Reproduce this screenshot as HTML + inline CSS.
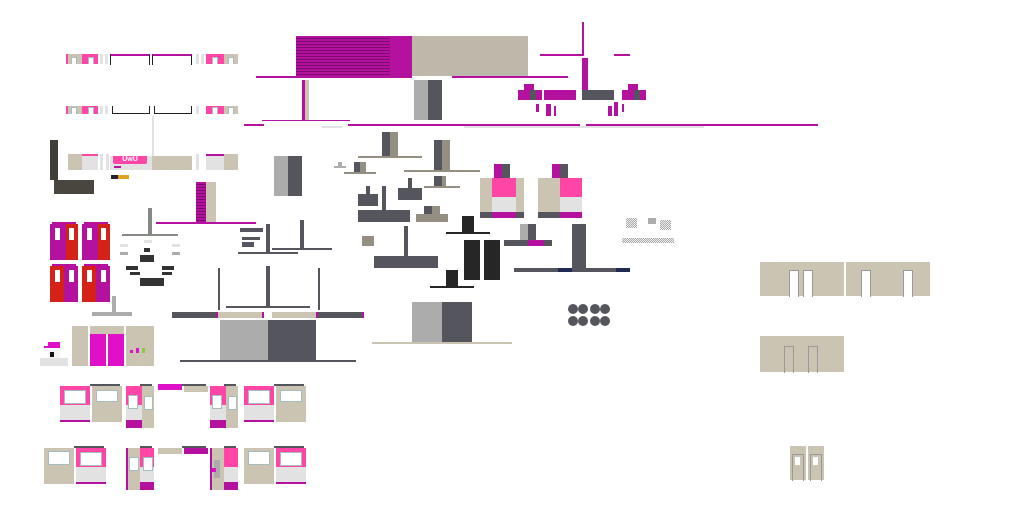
<!DOCTYPE html>
<html><head><meta charset="utf-8"><style>
html,body{margin:0;padding:0;background:#fff;width:1024px;height:512px;overflow:hidden;position:relative;font-family:"Liberation Sans",sans-serif}
b{position:absolute;display:block}
.m{background:#b5119f}.p{background:#ff45a5}.be{background:#cbc4b3}.d{background:#55555e}.l{background:#acacac}.t{background:#958f83}.w{background:#e2e2e2}.r{background:#d52218}.k{background:#262626}.s{background:repeating-linear-gradient(#b5119f 0 2px,#7d0a6e 2px 3px)}
.win{background:#fff;border:1px solid #a7bcbc}
.n{background:#fff;border:1px solid #a7bcbc;border-bottom:none;width:4px;height:6px}
</style></head><body>
<!-- top-left window rows -->
<b class="p" style="left:66px;top:54px;width:32px;height:10px"></b><b class="be" style="left:68px;top:54px;width:14px;height:10px"></b>
<b class="n" style="left:71px;top:57px"></b><b class="n" style="left:88px;top:57px"></b>
<b class="w" style="left:100px;top:54px;width:3px;height:10px"></b><b class="w" style="left:105px;top:54px;width:3px;height:10px"></b>
<b style="left:110px;top:54px;width:38px;height:9px;border:1px solid #222;border-top:2px solid #b5119f;border-bottom:none"></b>
<b style="left:152px;top:54px;width:38px;height:9px;border:1px solid #222;border-top:2px solid #b5119f;border-bottom:none"></b>
<b class="w" style="left:196px;top:54px;width:3px;height:10px"></b><b class="w" style="left:201px;top:54px;width:3px;height:10px"></b>
<b class="p" style="left:206px;top:54px;width:18px;height:10px"></b><b class="be" style="left:224px;top:54px;width:14px;height:10px"></b>
<b class="n" style="left:212px;top:57px"></b><b class="n" style="left:228px;top:57px"></b>
<b class="p" style="left:66px;top:106px;width:32px;height:8px"></b><b class="be" style="left:68px;top:106px;width:14px;height:8px"></b>
<b class="n" style="left:71px;top:107px"></b><b class="n" style="left:88px;top:107px"></b>
<b class="w" style="left:100px;top:106px;width:3px;height:8px"></b><b class="w" style="left:105px;top:106px;width:3px;height:8px"></b>
<b style="left:112px;top:106px;width:36px;height:7px;border:1px solid #222;border-top:none"></b>
<b style="left:154px;top:106px;width:36px;height:7px;border:1px solid #222;border-top:none"></b>
<b class="w" style="left:196px;top:106px;width:3px;height:8px"></b>
<b class="p" style="left:206px;top:106px;width:18px;height:8px"></b><b class="be" style="left:224px;top:106px;width:14px;height:8px"></b>
<b class="n" style="left:212px;top:107px"></b><b class="n" style="left:228px;top:107px"></b>
<b class="w" style="left:152px;top:116px;width:2px;height:40px"></b>
<!-- row 3 -->
<b class="d" style="left:50px;top:140px;width:8px;height:40px;background:#3f3f3a"></b>
<b style="left:54px;top:180px;width:40px;height:14px;background:#48463f"></b>
<b class="be" style="left:68px;top:154px;width:14px;height:16px"></b><b class="w" style="left:82px;top:154px;width:16px;height:16px"></b><b class="p" style="left:82px;top:154px;width:16px;height:2px"></b>
<b class="w" style="left:100px;top:154px;width:3px;height:16px"></b><b class="w" style="left:106px;top:154px;width:3px;height:16px"></b>
<b class="w" style="left:110px;top:156px;width:42px;height:14px"></b><b class="be" style="left:152px;top:156px;width:40px;height:14px"></b>
<b class="p" style="left:113px;top:156px;width:34px;height:8px;color:#fff;font-size:7px;line-height:8px;text-align:center;border-radius:0 0 2px 2px">UwU</b>
<b class="m" style="left:114px;top:166px;width:7px;height:2px"></b>
<b style="left:111px;top:175px;width:18px;height:4px;background:linear-gradient(90deg,#223 0 40%,#e0a020 40%)"></b>
<b class="w" style="left:196px;top:154px;width:3px;height:16px"></b>
<b class="w" style="left:206px;top:154px;width:18px;height:16px"></b><b class="m" style="left:206px;top:154px;width:18px;height:2px"></b><b class="be" style="left:224px;top:154px;width:14px;height:16px"></b>
<!-- striped block -->
<b class="s" style="left:196px;top:182px;width:10px;height:40px"></b><b class="be" style="left:206px;top:182px;width:10px;height:40px"></b>
<b class="m" style="left:156px;top:222px;width:100px;height:2px"></b>
<!-- doors -->
<b class="m" style="left:50px;top:224px;width:16px;height:36px"></b><b class="r" style="left:66px;top:224px;width:12px;height:36px"></b><b class="m" style="left:52px;top:222px;width:24px;height:2px"></b>
<b class="m" style="left:82px;top:224px;width:16px;height:36px"></b><b class="r" style="left:98px;top:224px;width:12px;height:36px"></b><b class="m" style="left:84px;top:222px;width:24px;height:2px"></b>
<b class="r" style="left:50px;top:266px;width:14px;height:36px"></b><b class="m" style="left:64px;top:266px;width:14px;height:36px"></b><b class="m" style="left:52px;top:264px;width:24px;height:2px"></b>
<b class="r" style="left:82px;top:266px;width:14px;height:36px"></b><b class="m" style="left:96px;top:266px;width:14px;height:36px"></b><b class="m" style="left:84px;top:264px;width:24px;height:2px"></b>
<b style="left:55px;top:228px;width:5px;height:12px;background:#fff"></b><b style="left:69px;top:228px;width:5px;height:12px;background:#fff"></b>
<b style="left:87px;top:228px;width:5px;height:12px;background:#fff"></b><b style="left:101px;top:228px;width:5px;height:12px;background:#fff"></b>
<b style="left:55px;top:270px;width:5px;height:12px;background:#fff"></b><b style="left:69px;top:270px;width:5px;height:12px;background:#fff"></b>
<b style="left:87px;top:270px;width:5px;height:12px;background:#fff"></b><b style="left:101px;top:270px;width:5px;height:12px;background:#fff"></b>
<!-- gray T + lamp -->
<b style="left:148px;top:208px;width:4px;height:27px;background:#868a85"></b><b style="left:122px;top:234px;width:56px;height:2px;background:#868a85"></b>
<b class="w" style="left:120px;top:244px;width:8px;height:3px"></b><b class="l" style="left:120px;top:252px;width:8px;height:3px"></b>
<b class="w" style="left:144px;top:240px;width:8px;height:3px"></b>
<b class="w" style="left:172px;top:244px;width:8px;height:3px"></b><b class="l" style="left:172px;top:252px;width:8px;height:3px"></b>
<b style="left:144px;top:248px;width:6px;height:4px;background:#333"></b><b style="left:140px;top:255px;width:14px;height:7px;background:#333"></b>
<b style="left:126px;top:266px;width:12px;height:4px;background:#333"></b><b style="left:162px;top:266px;width:12px;height:4px;background:#333"></b>
<b style="left:130px;top:272px;width:10px;height:3px;background:#333"></b><b style="left:162px;top:272px;width:10px;height:3px;background:#333"></b>
<b style="left:140px;top:278px;width:24px;height:8px;background:#333"></b>
<b class="l" style="left:112px;top:296px;width:4px;height:16px"></b><b class="l" style="left:92px;top:312px;width:40px;height:4px"></b>
<!-- mailbox & cabinet -->
<b style="left:48px;top:342px;width:12px;height:5px;background:#e010c8"></b><b style="left:44px;top:346px;width:16px;height:2px;background:#e010c8"></b>
<b style="left:48px;top:350px;width:12px;height:8px;background:#f4f4f4"></b><b style="left:50px;top:352px;width:4px;height:5px;background:#111"></b>
<b class="w" style="left:40px;top:358px;width:28px;height:8px"></b>
<b class="be" style="left:72px;top:326px;width:16px;height:40px"></b><b class="be" style="left:90px;top:326px;width:34px;height:8px"></b>
<b style="left:90px;top:334px;width:16px;height:32px;background:#e010c8"></b><b style="left:108px;top:334px;width:16px;height:32px;background:#e010c8"></b>
<b class="be" style="left:126px;top:326px;width:28px;height:40px"></b>
<b style="left:130px;top:350px;width:3px;height:3px;background:#e010c8"></b><b style="left:136px;top:348px;width:3px;height:5px;background:#e010c8"></b><b style="left:142px;top:348px;width:3px;height:5px;background:#8c4"></b>
<!-- dark lamp group -->
<b class="d" style="left:240px;top:228px;width:23px;height:4px"></b><b class="d" style="left:242px;top:237px;width:18px;height:3px"></b><b class="d" style="left:242px;top:242px;width:12px;height:5px"></b>
<b class="d" style="left:266px;top:224px;width:4px;height:30px"></b><b class="d" style="left:238px;top:252px;width:60px;height:2px"></b>
<b class="d" style="left:300px;top:220px;width:4px;height:28px"></b><b class="d" style="left:272px;top:248px;width:60px;height:2px"></b>
<!-- big T structure -->
<b class="d" style="left:218px;top:268px;width:2px;height:42px"></b><b class="d" style="left:266px;top:266px;width:4px;height:42px"></b><b class="d" style="left:318px;top:268px;width:2px;height:42px"></b>
<b class="d" style="left:226px;top:306px;width:84px;height:2px"></b>
<b class="d" style="left:172px;top:312px;width:46px;height:6px"></b><b class="be" style="left:218px;top:312px;width:46px;height:6px"></b><b class="be" style="left:272px;top:312px;width:46px;height:6px"></b><b class="d" style="left:318px;top:312px;width:44px;height:6px"></b>
<b class="m" style="left:216px;top:312px;width:2px;height:6px"></b><b class="m" style="left:262px;top:312px;width:2px;height:6px"></b><b class="m" style="left:316px;top:312px;width:2px;height:6px"></b><b class="m" style="left:362px;top:312px;width:2px;height:6px"></b>
<b class="l" style="left:220px;top:320px;width:48px;height:40px"></b><b class="d" style="left:268px;top:320px;width:48px;height:40px"></b>
<b class="d" style="left:180px;top:360px;width:176px;height:2px"></b>
<!-- top big block -->
<b class="s" style="left:296px;top:36px;width:94px;height:40px"></b><b class="m" style="left:390px;top:36px;width:22px;height:40px"></b><b class="be" style="left:412px;top:36px;width:116px;height:40px;background:#bdb8aa"></b>
<b class="m" style="left:256px;top:76px;width:156px;height:2px"></b><b class="m" style="left:452px;top:76px;width:116px;height:2px"></b>
<b class="m" style="left:302px;top:80px;width:3px;height:40px"></b><b class="be" style="left:305px;top:80px;width:4px;height:40px"></b>
<b class="l" style="left:414px;top:80px;width:14px;height:40px"></b><b class="d" style="left:428px;top:80px;width:14px;height:40px"></b>
<b class="m" style="left:262px;top:120px;width:88px;height:1px"></b><b class="m" style="left:244px;top:124px;width:20px;height:2px"></b>
<b class="m" style="left:348px;top:124px;width:232px;height:2px"></b><b class="m" style="left:586px;top:124px;width:232px;height:2px"></b>
<b class="w" style="left:464px;top:126px;width:240px;height:2px"></b><b class="w" style="left:322px;top:126px;width:20px;height:2px"></b>
<!-- right top cluster -->
<b class="m" style="left:582px;top:22px;width:2px;height:34px"></b><b class="m" style="left:540px;top:54px;width:42px;height:2px"></b><b class="m" style="left:614px;top:54px;width:16px;height:2px"></b>
<b class="m" style="left:582px;top:58px;width:6px;height:32px"></b>
<b class="m" style="left:518px;top:90px;width:24px;height:10px"></b><b class="m" style="left:524px;top:84px;width:10px;height:6px"></b><b class="d" style="left:530px;top:90px;width:6px;height:10px"></b>
<b class="m" style="left:544px;top:90px;width:32px;height:10px"></b><b class="d" style="left:582px;top:90px;width:32px;height:10px"></b>
<b class="m" style="left:622px;top:90px;width:24px;height:10px"></b><b class="m" style="left:628px;top:84px;width:10px;height:6px"></b><b class="d" style="left:634px;top:90px;width:6px;height:10px"></b>
<b class="m" style="left:536px;top:104px;width:3px;height:8px"></b><b class="m" style="left:546px;top:104px;width:5px;height:12px"></b><b class="m" style="left:554px;top:106px;width:2px;height:10px"></b>
<b class="m" style="left:608px;top:106px;width:4px;height:10px"></b><b class="m" style="left:614px;top:102px;width:4px;height:14px"></b><b class="m" style="left:622px;top:104px;width:2px;height:8px"></b>
<!-- mid -->
<b class="l" style="left:274px;top:156px;width:14px;height:40px"></b><b class="d" style="left:288px;top:156px;width:14px;height:40px"></b>
<b class="d" style="left:382px;top:132px;width:8px;height:24px"></b><b class="t" style="left:390px;top:132px;width:8px;height:24px"></b><b class="t" style="left:358px;top:156px;width:64px;height:2px"></b>
<b class="d" style="left:434px;top:140px;width:8px;height:30px"></b><b class="t" style="left:442px;top:140px;width:8px;height:30px"></b><b class="t" style="left:404px;top:170px;width:76px;height:2px"></b>
<b class="l" style="left:334px;top:166px;width:12px;height:2px"></b><b class="l" style="left:338px;top:162px;width:4px;height:4px"></b>
<b class="d" style="left:354px;top:162px;width:6px;height:10px"></b><b class="t" style="left:360px;top:162px;width:6px;height:10px"></b><b class="t" style="left:344px;top:172px;width:32px;height:2px"></b>
<b class="d" style="left:434px;top:176px;width:8px;height:10px"></b><b class="t" style="left:442px;top:176px;width:4px;height:10px"></b><b class="t" style="left:424px;top:186px;width:36px;height:2px"></b>
<b class="d" style="left:366px;top:186px;width:4px;height:8px"></b><b class="d" style="left:358px;top:194px;width:20px;height:12px"></b>
<b class="d" style="left:382px;top:186px;width:4px;height:24px"></b><b class="d" style="left:358px;top:210px;width:52px;height:12px"></b>
<b class="d" style="left:408px;top:178px;width:4px;height:10px"></b><b class="d" style="left:398px;top:188px;width:24px;height:12px"></b>
<b class="d" style="left:424px;top:206px;width:8px;height:8px"></b><b class="t" style="left:432px;top:206px;width:8px;height:8px"></b><b class="t" style="left:416px;top:214px;width:32px;height:8px"></b>
<b class="t" style="left:362px;top:236px;width:12px;height:10px"></b>
<b class="d" style="left:404px;top:226px;width:4px;height:30px"></b><b class="d" style="left:374px;top:256px;width:64px;height:12px"></b>
<!-- pink modules -->
<b class="be" style="left:480px;top:178px;width:44px;height:34px"></b><b class="p" style="left:492px;top:178px;width:24px;height:19px"></b><b class="w" style="left:492px;top:197px;width:24px;height:15px"></b>
<b class="d" style="left:480px;top:212px;width:44px;height:6px"></b><b class="m" style="left:492px;top:212px;width:24px;height:6px"></b>
<b class="m" style="left:494px;top:164px;width:8px;height:14px"></b><b class="d" style="left:502px;top:164px;width:8px;height:14px"></b>
<b class="be" style="left:538px;top:178px;width:22px;height:34px"></b><b class="p" style="left:560px;top:178px;width:22px;height:19px"></b><b class="w" style="left:560px;top:197px;width:22px;height:15px"></b>
<b class="d" style="left:538px;top:212px;width:22px;height:6px"></b><b class="m" style="left:560px;top:212px;width:22px;height:6px"></b>
<b class="m" style="left:552px;top:164px;width:8px;height:14px"></b><b class="d" style="left:560px;top:164px;width:8px;height:14px"></b>
<!-- black items -->
<b class="k" style="left:462px;top:216px;width:12px;height:16px"></b><b class="k" style="left:446px;top:232px;width:44px;height:2px"></b>
<b class="k" style="left:464px;top:240px;width:16px;height:40px"></b><b class="k" style="left:484px;top:240px;width:16px;height:40px"></b>
<b class="k" style="left:446px;top:270px;width:12px;height:16px"></b><b class="k" style="left:430px;top:286px;width:44px;height:2px"></b>
<b class="l" style="left:520px;top:224px;width:8px;height:16px"></b><b class="d" style="left:528px;top:224px;width:8px;height:16px"></b>
<b class="d" style="left:504px;top:240px;width:48px;height:6px"></b><b class="m" style="left:528px;top:240px;width:16px;height:6px"></b>
<b class="d" style="left:572px;top:224px;width:14px;height:46px"></b><b class="d" style="left:514px;top:268px;width:116px;height:4px"></b>
<b style="left:558px;top:268px;width:14px;height:4px;background:#1f2a55"></b><b style="left:616px;top:268px;width:14px;height:4px;background:#1f2a55"></b>
<b style="left:626px;top:218px;width:11px;height:10px;background:repeating-conic-gradient(#aaa 0 25%,#eee 0 50%) 0 0/2px 2px"></b>
<b class="l" style="left:648px;top:218px;width:8px;height:6px"></b>
<b style="left:660px;top:220px;width:11px;height:10px;background:repeating-conic-gradient(#aaa 0 25%,#eee 0 50%) 0 0/2px 2px"></b>
<b style="left:622px;top:238px;width:52px;height:5px;background:repeating-conic-gradient(#aaa 0 25%,#eee 0 50%) 0 0/2px 2px"></b>
<!-- circles -->
<svg style="position:absolute;left:0;top:0" width="1024" height="512"><g fill="#55555e">
<circle cx="573" cy="309" r="5"/><circle cx="583" cy="309" r="5"/><circle cx="595" cy="309" r="5"/><circle cx="605" cy="309" r="5"/>
<circle cx="573" cy="321" r="5"/><circle cx="583" cy="321" r="5"/><circle cx="595" cy="321" r="5"/><circle cx="605" cy="321" r="5"/></g></svg>
<b class="l" style="left:412px;top:302px;width:30px;height:40px"></b><b class="d" style="left:442px;top:302px;width:30px;height:40px"></b>
<b class="be" style="left:372px;top:342px;width:140px;height:2px"></b>
<!-- right wall panels -->
<b class="be" style="left:760px;top:262px;width:84px;height:34px"></b><b class="be" style="left:846px;top:262px;width:84px;height:34px"></b>
<b style="left:789px;top:270px;width:8px;height:26px;background:#fff;border:1px solid #999;border-bottom:none"></b><b style="left:803px;top:270px;width:8px;height:26px;background:#fff;border:1px solid #999;border-bottom:none"></b>
<b style="left:861px;top:270px;width:8px;height:26px;background:#fff;border:1px solid #999;border-bottom:none"></b><b style="left:903px;top:270px;width:8px;height:26px;background:#fff;border:1px solid #999;border-bottom:none"></b>
<b class="be" style="left:760px;top:336px;width:84px;height:36px"></b>
<b style="left:784px;top:346px;width:8px;height:26px;border:1px solid #999;border-bottom:none"></b><b style="left:808px;top:346px;width:8px;height:26px;border:1px solid #999;border-bottom:none"></b>
<b class="be" style="left:790px;top:446px;width:16px;height:34px"></b><b class="be" style="left:808px;top:446px;width:16px;height:34px"></b>
<b style="left:792px;top:454px;width:10px;height:26px;border:1px solid #999;border-bottom:none"></b><b style="left:810px;top:454px;width:10px;height:26px;border:1px solid #999;border-bottom:none"></b>
<b style="left:795px;top:457px;width:5px;height:8px;background:#fff"></b><b style="left:813px;top:457px;width:5px;height:8px;background:#fff"></b>
<!-- bottom row 1 -->
<b class="p" style="left:60px;top:386px;width:30px;height:19px"></b><b class="w" style="left:60px;top:405px;width:30px;height:15px"></b><b class="m" style="left:60px;top:420px;width:30px;height:2px"></b><b class="win" style="left:64px;top:390px;width:20px;height:12px"></b>
<b class="d" style="left:90px;top:384px;width:30px;height:2px"></b><b class="be" style="left:92px;top:386px;width:30px;height:36px"></b><b class="win" style="left:96px;top:390px;width:20px;height:10px"></b>
<b class="p" style="left:126px;top:386px;width:16px;height:19px"></b><b class="w" style="left:126px;top:405px;width:16px;height:15px"></b><b class="m" style="left:126px;top:420px;width:16px;height:8px"></b><b class="be" style="left:142px;top:386px;width:12px;height:42px"></b><b class="d" style="left:140px;top:384px;width:12px;height:2px"></b>
<b class="win" style="left:128px;top:395px;width:8px;height:12px"></b><b class="win" style="left:144px;top:396px;width:7px;height:12px"></b>
<b style="left:158px;top:384px;width:24px;height:6px;background:#e010c8"></b><b class="d" style="left:182px;top:384px;width:24px;height:2px"></b><b class="be" style="left:184px;top:386px;width:24px;height:6px"></b>
<b class="p" style="left:210px;top:386px;width:16px;height:19px"></b><b class="w" style="left:210px;top:405px;width:16px;height:15px"></b><b class="m" style="left:210px;top:420px;width:16px;height:8px"></b><b class="be" style="left:226px;top:386px;width:12px;height:42px"></b><b class="d" style="left:224px;top:384px;width:12px;height:2px"></b>
<b class="win" style="left:212px;top:395px;width:8px;height:12px"></b><b class="win" style="left:228px;top:396px;width:7px;height:12px"></b>
<b class="p" style="left:244px;top:386px;width:30px;height:19px"></b><b class="w" style="left:244px;top:405px;width:30px;height:15px"></b><b class="m" style="left:244px;top:420px;width:30px;height:2px"></b><b class="win" style="left:248px;top:390px;width:20px;height:12px"></b>
<b class="d" style="left:274px;top:384px;width:30px;height:2px"></b><b class="be" style="left:276px;top:386px;width:30px;height:36px"></b><b class="win" style="left:280px;top:390px;width:20px;height:10px"></b>
<!-- bottom row 2 -->
<b class="be" style="left:44px;top:448px;width:30px;height:36px"></b><b class="win" style="left:48px;top:451px;width:20px;height:12px"></b>
<b class="d" style="left:74px;top:446px;width:30px;height:2px"></b><b class="p" style="left:76px;top:448px;width:30px;height:19px"></b><b class="w" style="left:76px;top:467px;width:30px;height:15px"></b><b class="m" style="left:76px;top:482px;width:30px;height:2px"></b><b class="win" style="left:80px;top:452px;width:20px;height:12px"></b>
<b class="m" style="left:126px;top:448px;width:2px;height:42px"></b><b class="be" style="left:128px;top:448px;width:12px;height:42px"></b><b class="p" style="left:140px;top:448px;width:14px;height:19px"></b><b class="w" style="left:140px;top:467px;width:14px;height:15px"></b><b class="m" style="left:140px;top:482px;width:14px;height:8px"></b><b class="d" style="left:140px;top:446px;width:12px;height:2px"></b>
<b class="win" style="left:129px;top:457px;width:8px;height:12px"></b><b class="win" style="left:143px;top:457px;width:8px;height:12px"></b>
<b class="be" style="left:158px;top:448px;width:24px;height:6px"></b><b class="d" style="left:182px;top:446px;width:24px;height:2px"></b><b class="m" style="left:184px;top:448px;width:24px;height:6px"></b>
<b class="m" style="left:210px;top:448px;width:2px;height:42px"></b><b class="be" style="left:212px;top:448px;width:12px;height:42px"></b><b class="p" style="left:224px;top:448px;width:14px;height:19px"></b><b class="w" style="left:224px;top:467px;width:14px;height:15px"></b><b class="m" style="left:224px;top:482px;width:14px;height:8px"></b><b class="d" style="left:224px;top:446px;width:12px;height:2px"></b>
<b class="l" style="left:214px;top:460px;width:6px;height:18px"></b><b style="left:212px;top:468px;width:4px;height:4px;background:#e010c8"></b>
<b class="be" style="left:244px;top:448px;width:30px;height:36px"></b><b class="win" style="left:248px;top:451px;width:20px;height:12px"></b>
<b class="d" style="left:274px;top:446px;width:30px;height:2px"></b><b class="p" style="left:276px;top:448px;width:30px;height:19px"></b><b class="w" style="left:276px;top:467px;width:30px;height:15px"></b><b class="m" style="left:276px;top:482px;width:30px;height:2px"></b><b class="win" style="left:280px;top:452px;width:20px;height:12px"></b>
</body></html>
